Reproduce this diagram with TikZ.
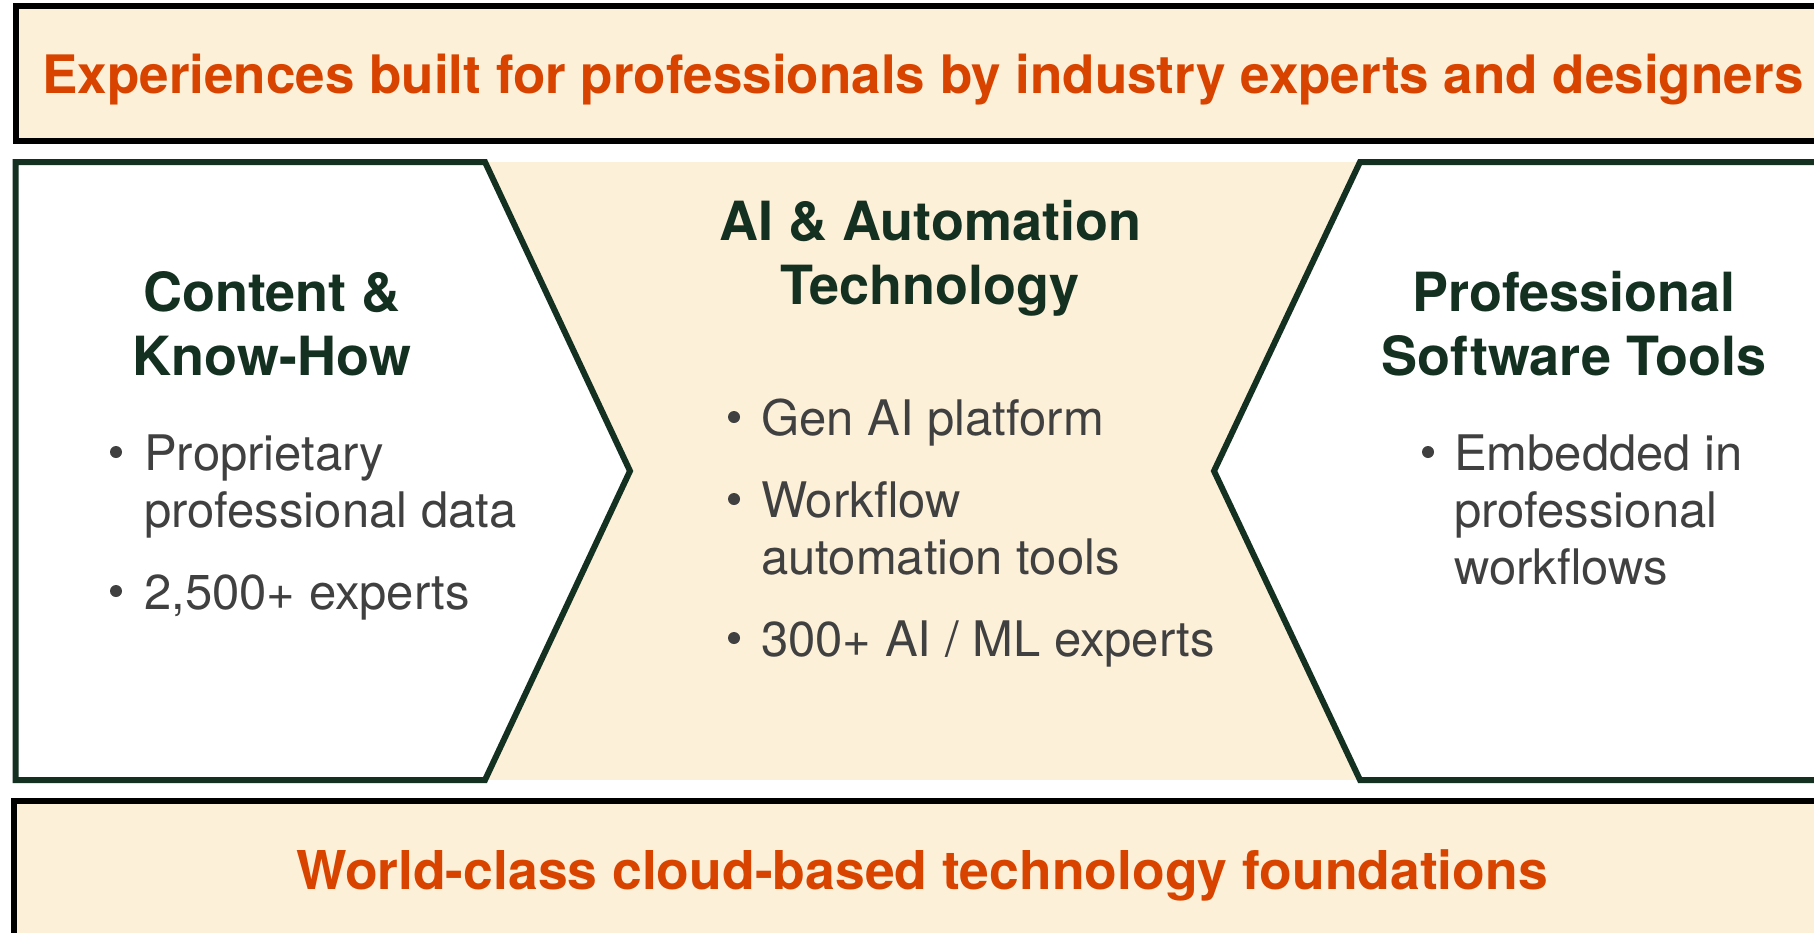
\documentclass[tikz,border=0pt]{standalone}
\usepackage{fontspec}
\setmainfont{TeX Gyre Heros}
\usetikzlibrary{positioning}
\definecolor{pagebeige}{HTML}{FCF0D9}
\definecolor{accentorange}{HTML}{D84400}
\definecolor{panelgreen}{HTML}{133020}
\definecolor{bodygray}{HTML}{404040}
\begin{document}
\begin{tikzpicture}[
    x=1pt, y=-1pt,
    % Styles
    banner/.style={% For the top and bottom bars
        draw=black,
        line width=6pt,
        fill=pagebeige,
        },
    panel/.style={% For the two arrow shaped panels
        draw=panelgreen,
        line width=6pt,
        fill=white,
        line join=miter,
        },
    bannertext/.style={% Orange bold text of the bars
        font=\bfseries\fontsize{53}{60}\selectfont,
        text=accentorange,
        inner sep=0pt,
        anchor=base,
        },
    heading/.style={% Column titles (placed at the baseline of the last line)
        font=\bfseries\fontsize{54}{64}\selectfont,
        text=panelgreen,
        align=center,
        inner sep=0pt,
        anchor=base,
        },
    item/.style={% Bullet texts (placed at the baseline of the last line)
        font=\fontsize{49}{57}\selectfont,
        text=bodygray,
        align=left,
        inner sep=0pt,
        anchor=base west,
        },
    dot/.style={% Bullet points
        circle,
        fill=bodygray,
        inner sep=0pt,
        minimum size=12pt,
        },
    ]

    \useasboundingbox (0,0) rectangle (1814,932);
    \clip (0,0) rectangle (1814,932);

    % Middle band behind the panels
    \fill [pagebeige] (485,162) rectangle (1360,780);

    % Panels
    \draw [panel] (15.5,162) -- (485,162) -- (630,471) -- (485,780) -- (15.5,780) -- cycle;
    \draw [panel] (1840,162) -- (1360,162) -- (1214,471) -- (1360,780) -- (1840,780) -- cycle;

    % Bars
    \draw [banner] (15.5,6) rectangle (1840,141);
    \draw [banner] (13.5,801) rectangle (1840,960);

    % Bar texts
    \node [bannertext] (top) at (923,93) {Experiences built for professionals by industry experts and designers};
    \node [bannertext, font=\bfseries\fontsize{53.5}{60}\selectfont] (bottom) at (922,889) {World-class cloud-based technology foundations};

    % Column titles
    \node [heading] (content) at (272,375) {Content \&\\Know-How};
    \node [heading] (ai) at (930,304) {AI \& Automation\\Technology};
    \node [heading] (tools) at (1574,375) {Professional\\Software Tools};

    % Left column
    \node [dot] (cdot1) at (116,452) {};
    \node [item] (citem1) at (144,527) {Proprietary\\professional data};
    \node [dot] (cdot2) at (116,591) {};
    \node [item] (citem2) at (144,609) {2,500+ experts};

    % Middle column
    \node [dot] (adot1) at (734,417) {};
    \node [item] (aitem1) at (761,435) {Gen AI platform};
    \node [dot] (adot2) at (734,499) {};
    \node [item] (aitem2) at (761,574) {Workflow\\automation tools};
    \node [dot] (adot3) at (734,638) {};
    \node [item] (aitem3) at (761,656) {300+ AI / ML experts};

    % Right column
    \node [dot] (tdot1) at (1428,452) {};
    \node [item] (titem1) at (1454,584) {Embedded in\\professional\\workflows};

\end{tikzpicture}
\end{document}
